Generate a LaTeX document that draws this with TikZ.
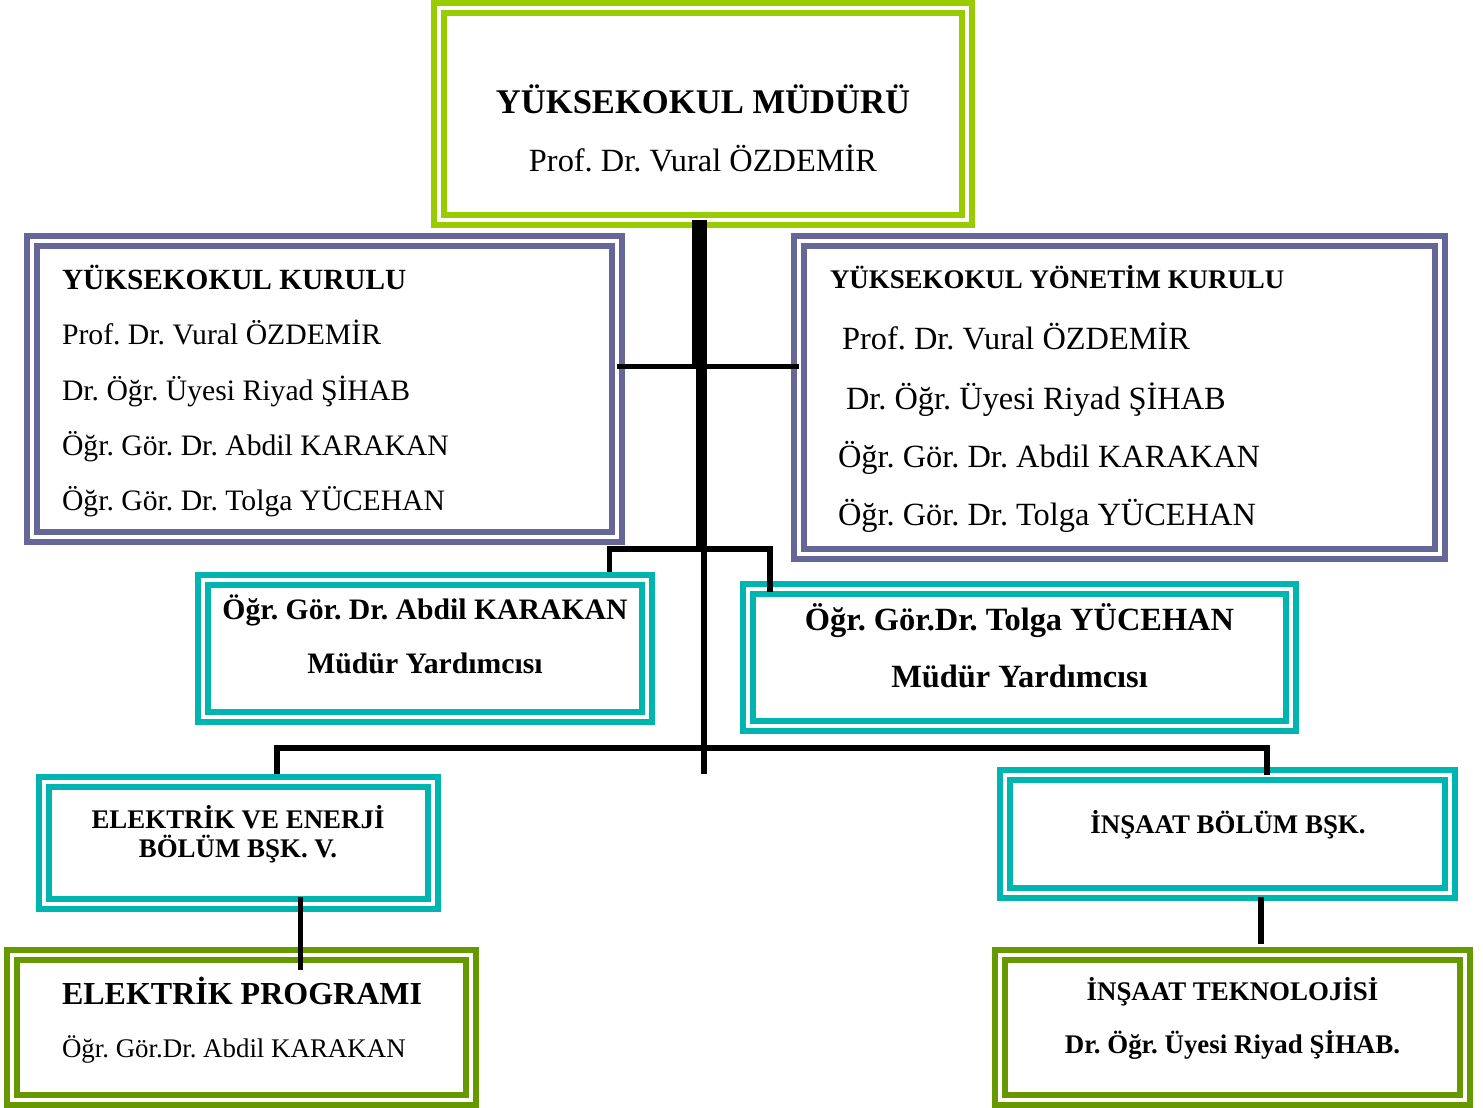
\documentclass[tikz,border=0pt]{standalone}
\usepackage{fontspec}
\setmainfont{Liberation Serif}
\frenchspacing
\newcommand\fsA{\fontsize{34.6}{40}\selectfont}
\newcommand\fsB{\fontsize{32.4}{38}\selectfont}
\newcommand\fsBb{\fontsize{32}{38}\selectfont}
\newcommand\fsC{\fontsize{29.7}{35}\selectfont}
\newcommand\fsCb{\fontsize{29.3}{35}\selectfont}
\newcommand\fsD{\fontsize{26.9}{30}\selectfont}
\definecolor{lgreen}{HTML}{99CC00}
\definecolor{dgreen}{HTML}{669900}
\definecolor{purp}{HTML}{666699}
\definecolor{teal2}{HTML}{00B4B0}
\begin{document}
\begin{tikzpicture}[x=1pt,y=-1pt,
  box/.style={draw=#1, line width=5.5pt, double=white, double distance=4.5pt,
    rectangle, inner sep=0pt, outer sep=0pt},
  txt/.style={inner sep=0pt, outer sep=0pt, anchor=base},
  txtl/.style={inner sep=0pt, outer sep=0pt, anchor=base west},
  conn/.style={draw=black, line width=5.5pt}]
\useasboundingbox (0,0) rectangle (1483,1108);

% boxes
\node[box=lgreen, minimum width=528pt, minimum height=212pt] (mudur) at (703,114) {};
\node[box=purp, minimum width=585pt, minimum height=296pt] (kurul) at (324.5,389) {};
\node[box=purp, minimum width=641pt, minimum height=313pt] (yonetim) at (1119.5,397.5) {};
\node[box=teal2, minimum width=444pt, minimum height=137pt] (myl) at (425,648.5) {};
\node[box=teal2, minimum width=543pt, minimum height=137pt] (myr) at (1019.5,657.5) {};
\node[box=teal2, minimum width=389pt, minimum height=122pt] (elek) at (238.5,843) {};
\node[box=teal2, minimum width=445pt, minimum height=118pt] (insb) at (1227.5,834) {};
\node[box=dgreen, minimum width=459pt, minimum height=145pt] (prog) at (241.5,1027.5) {};
\node[box=dgreen, minimum width=465pt, minimum height=145pt] (instek) at (1232.5,1027.5) {};

% texts
\node[txt] (m1) at (703,113) {\fsA\bfseries YÜKSEKOKUL MÜDÜRÜ};
\node[txt] (m2) at (703,171) {\fsB Prof. Dr. Vural ÖZDEMİR};

\node[txtl] (k1) at (62,289) {\fsCb\bfseries YÜKSEKOKUL KURULU};
\node[txtl] (k2) at (62,344) {\fsC Prof. Dr. Vural ÖZDEMİR};
\node[txtl] (k3) at (62,400) {\fsC Dr. Öğr. Üyesi Riyad ŞİHAB};
\node[txtl] (k4) at (62,455) {\fsC Öğr. Gör. Dr. Abdil KARAKAN};
\node[txtl] (k5) at (62,510) {\fsC Öğr. Gör. Dr. Tolga YÜCEHAN};

\node[txtl] (y1) at (830,288) {\fsD\bfseries YÜKSEKOKUL YÖNETİM KURULU};
\node[txtl] (y2) at (842,349) {\fsB Prof. Dr. Vural ÖZDEMİR};
\node[txtl] (y3) at (846,409) {\fsB Dr. Öğr. Üyesi Riyad ŞİHAB};
\node[txtl] (y4) at (838,467) {\fsB Öğr. Gör. Dr. Abdil KARAKAN};
\node[txtl] (y5) at (838,525) {\fsB Öğr. Gör. Dr. Tolga YÜCEHAN};

\node[txt] (ml1) at (425,619) {\fsC\bfseries Öğr. Gör. Dr. Abdil KARAKAN};
\node[txt] (ml2) at (425,673) {\fsC\bfseries Müdür Yardımcısı};
\node[txt] (mr1) at (1019.5,630) {\fsB\bfseries Öğr. Gör.Dr. Tolga YÜCEHAN};
\node[txt] (mr2) at (1019.5,687) {\fsB\bfseries Müdür Yardımcısı};

\node[txt] (e1) at (238,828) {\fsD\bfseries ELEKTRİK VE ENERJİ};
\node[txt] (e2) at (238,857) {\fsD\bfseries BÖLÜM BŞK. V.};
\node[txt] (i1) at (1228,833) {\fsD\bfseries İNŞAAT BÖLÜM BŞK.};

\node[txtl] (p1) at (62,1004) {\fsBb\bfseries ELEKTRİK PROGRAMI};
\node[txtl] (p2) at (62,1057) {\fsD Öğr. Gör.Dr. Abdil KARAKAN};
\node[txt] (it1) at (1232.5,1000) {\fsD\bfseries İNŞAAT TEKNOLOJİSİ};
\node[txt] (it2) at (1232.5,1053) {\fsD\bfseries Dr. Öğr. Üyesi Riyad ŞİHAB.};

% junction coordinates
\coordinate (j1) at (699.5,366);
\coordinate (j2) at (701.5,549);
\coordinate (j3) at (704,748);
\coordinate (jend) at (704,774);
\coordinate (ma) at (609.5,549);
\coordinate (mb) at (770,549);
\coordinate (ba) at (277,748);
\coordinate (bb) at (1267,748);
\coordinate (ex) at (300.5,0);
\coordinate (ix) at (1261,0);

% connectors
\draw[conn, line width=15pt] (mudur.south -| j1) -- (j1);
\draw[conn, line width=11pt] (j1 -| j2) -- (j2);
\draw[conn] (j2 -| j3) -- (jend);
\draw[conn, line width=5pt] (kurul.east |- j1) -- (yonetim.west |- j1);
\draw[conn] ([yshift=8pt]myl.north -| ma) -- (ma) -- (mb) -- ([yshift=-3pt]myr.north -| mb);
\draw[conn] ([yshift=8pt]elek.north -| ba) -- (ba) -- (bb) -- ([yshift=0pt]insb.north -| bb);
\draw[conn] ([yshift=7pt]elek.south -| ex) -- ([yshift=-15pt]prog.north -| ex);
\draw[conn] ([yshift=-4pt]insb.south -| ix) -- ([yshift=11pt]instek.north -| ix);
\end{tikzpicture}
\end{document}
